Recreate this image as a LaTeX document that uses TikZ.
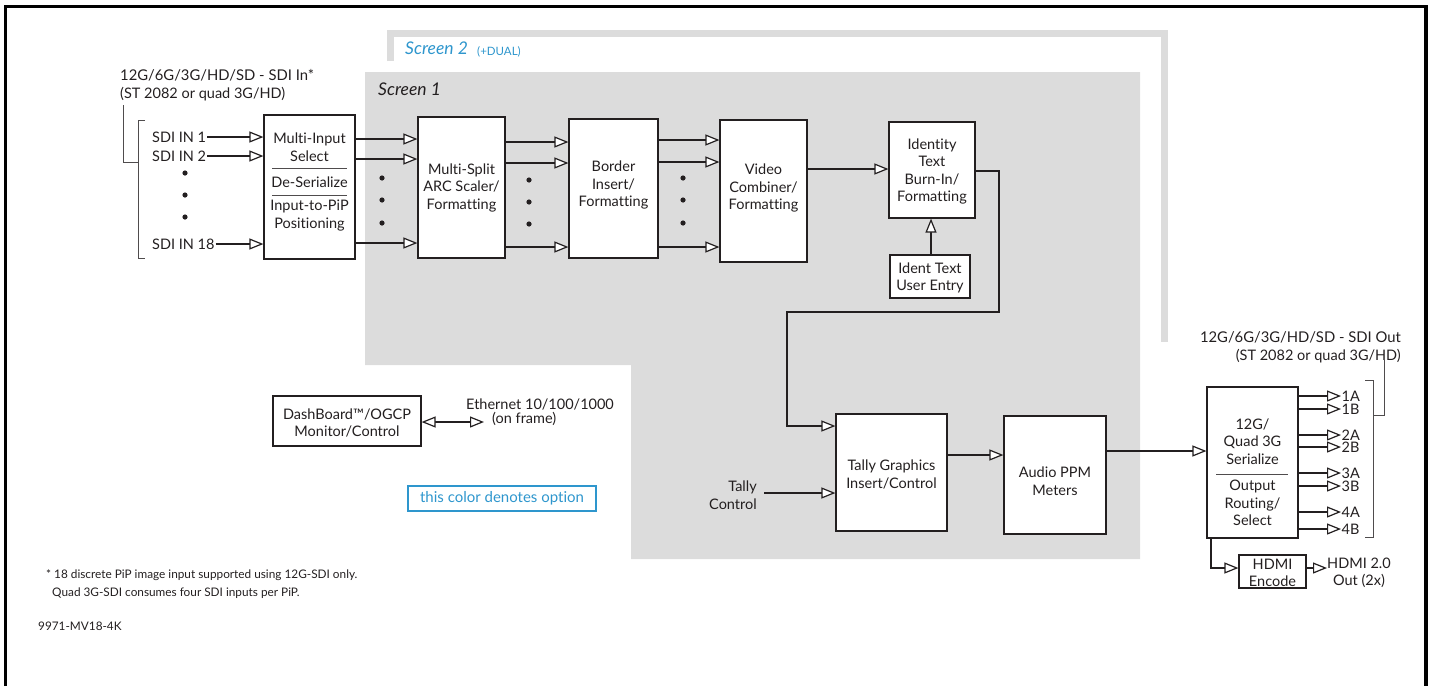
\documentclass[tikz,border=0pt]{standalone}
\usepackage{fontspec}
\setmainfont{Lato}[Ligatures=NoCommon]
\usetikzlibrary{arrows.meta}
\definecolor{optblue}{RGB}{46,150,205}
\definecolor{scrgray}{RGB}{220,220,220}
\definecolor{ink}{RGB}{35,31,32}
\begin{document}
\begin{tikzpicture}[x=1pt,y=-1pt,
  box/.style={draw=ink, line width=1.2pt, fill=white, inner sep=0pt, align=center, font=\fontsize{14.5}{17.5}\selectfont, text=ink},
  lbl/.style={inner sep=1pt, align=center, font=\fontsize{14.5}{17.5}\selectfont, text=ink},
  small/.style={inner sep=0pt, align=left, font=\fontsize{11.8}{18}\selectfont, text=ink},
  arr/.style={draw=ink, line width=1.2pt, -{Triangle[length=14pt,width=11pt,fill=white]}},
  darr/.style={draw=ink, line width=1.2pt, {Triangle[length=14pt,width=11pt,fill=white]}-{Triangle[length=14pt,width=11pt,fill=white]}},
  thin/.style={draw=ink!80, line width=0.9pt},
  dot/.style={fill=ink}
]
\useasboundingbox (0,0) rectangle (1430,686);
% frame
\draw[line width=3.5pt, line join=miter] (5.5,686) -- (5.5,6.5) -- (1426,6.5) -- (1426,686);
% screen areas
\fill[scrgray] (365,72) -- (1140,72) -- (1140,559) -- (631,559) -- (631,365) -- (365,365) -- cycle;
\draw[scrgray, line width=7pt, line join=miter] (390.5,61) -- (390.5,33.5) -- (1164.5,33.5) -- (1164.5,342);
\node[inner sep=0pt, anchor=base west, text=optblue, font=\fontsize{17.5}{20}\selectfont\itshape] (scr2) at (405,54.5) {Screen 2};
\node[inner sep=0pt, anchor=base west, text=optblue, font=\fontsize{11.5}{13}\selectfont] (dual) at (477,55.5) {(+DUAL)};
\node[inner sep=0pt, anchor=base west, text=ink, font=\fontsize{17.5}{20}\selectfont\itshape] (scr1) at (378,95) {Screen 1};

% input title and labels
\node[lbl, align=left, anchor=west, inner sep=0pt] (intitle) at (120,85) {\fontsize{14.8}{16}\selectfont 12G/6G/3G/HD/SD - SDI In*\\(ST 2082 or quad 3G/HD)};
\node[lbl, anchor=west] (in1) at (151,137) {SDI IN 1};
\node[lbl, anchor=west] (in2) at (151,156) {SDI IN 2};
\node[lbl, anchor=west] (in18) at (151,244) {SDI IN 18};
\fill[dot] (185,173) circle (2.6pt) (185,195) circle (2.6pt) (185,217) circle (2.6pt);
\draw[thin] (145,120) -- (138,120) -- (138,258) -- (145,258);
\draw[thin] (123,105) -- (123,162) -- (138,162);

% Multi-input box
\node[box, minimum width=91pt, minimum height=144pt] (mis) at (309.5,187) {};
\node[lbl] (mist1) at (309.5,147) {\fontsize{14.5}{16.5}\selectfont Multi-Input\\Select};
\node[lbl] (mist2) at (309.5,182) {De-Serialize};
\node[lbl] (mist3) at (309.5,215.5) {\fontsize{14.5}{16.5}\selectfont Input-to-PiP\\Positioning};
\draw[thin] (272,168) -- (347,168);
\draw[thin] (272,195) -- (347,195);
\draw[arr] (in1.east) -- (in1.east -| mis.west);
\draw[arr] (in2.east) -- (in2.east -| mis.west);
\draw[arr] (in18.east) -- (in18.east -| mis.west);

% Multi-split
\node[box, minimum width=87pt, minimum height=141pt] (msp) at (461.5,187.5) {Multi-Split\\ARC Scaler/\\Formatting};
\draw[arr] (mis.east |- 0,139) -- (msp.west |- 0,139);
\draw[arr] (mis.east |- 0,159) -- (msp.west |- 0,159);
\draw[arr] (mis.east |- 0,243) -- (msp.west |- 0,243);
\fill[dot] (382,178) circle (2.6pt) (382,200) circle (2.6pt) (382,223) circle (2.6pt);

% Border insert
\node[box, minimum width=89pt, minimum height=139pt] (bdr) at (613.5,188.5) {};
\node[lbl] (bdrt) at (613.5,185) {Border\\Insert/\\Formatting};
\draw[arr] (msp.east |- 0,142) -- (bdr.west |- 0,142);
\draw[arr] (msp.east |- 0,163) -- (bdr.west |- 0,163);
\draw[arr] (msp.east |- 0,247) -- (bdr.west |- 0,247);
\fill[dot] (529,180) circle (2.6pt) (529,202) circle (2.6pt) (529,224) circle (2.6pt);

% Video combiner
\node[box, minimum width=87pt, minimum height=142pt] (vid) at (763.5,191) {};
\node[lbl] (vidt) at (763.5,188) {Video\\Combiner/\\Formatting};
\draw[arr] (bdr.east |- 0,140) -- (vid.west |- 0,140);
\draw[arr] (bdr.east |- 0,162) -- (vid.west |- 0,162);
\draw[arr] (bdr.east |- 0,247) -- (vid.west |- 0,247);
\fill[dot] (683,178) circle (2.6pt) (683,200) circle (2.6pt) (683,223) circle (2.6pt);

% Identity
\node[box, minimum width=86pt, minimum height=96pt] (idt) at (932,170) {};
\node[lbl] (idtt) at (932,171.5) {\fontsize{14.5}{18.2}\selectfont Identity\\Text\\Burn-In/\\Formatting};
\node[box, minimum width=80pt, minimum height=43pt] (ide) at (930,276.5) {};
\node[lbl] (idet) at (930,278) {Ident Text\\User Entry};
\draw[arr] (vid.east |- 0,169) -- (idt.west |- 0,169);
\draw[arr] (ide.north -| 931,0) -- (idt.south -| 931,0);

% Tally graphics
\node[box, minimum width=111pt, minimum height=117pt] (tly) at (891.5,472.5) {};
\node[lbl] (tlyt) at (891.5,474.5) {Tally Graphics\\Insert/Control};
\coordinate (c1) at (999,171);
\coordinate (c2) at (999,312);
\coordinate (c3) at (787,312);
\coordinate (c4) at (787,426);
\draw[arr, line join=miter] (idt.east |- c1) -- (c1) -- (c2) -- (c3) -- (c4) -- (tly.west |- c4);
\node[lbl, align=right, anchor=east] (tcl) at (758,495) {Tally\\Control};
\draw[arr] (tcl.east |- 0,493) ++(6,0) -- (tly.west |- 0,493);

% Audio PPM
\node[box, minimum width=102pt, minimum height=118pt] (aud) at (1055,475) {};
\node[lbl] (audt) at (1055,481) {Audio PPM\\Meters};
\draw[arr] (tly.east |- 0,455) -- (aud.west |- 0,455);

% Output serializer
\node[box, minimum width=91pt, minimum height=151pt] (ser) at (1252.5,462.5) {};
\node[lbl] (sert1) at (1252.5,441.5) {12G/\\Quad 3G\\Serialize};
\node[lbl] (sert2) at (1252.5,503) {Output\\Routing/\\Select};
\draw[thin] (1216,474) -- (1288,474);
\draw[arr] (aud.east |- 0,451) -- (ser.west |- 0,451);
\node[lbl, inner sep=0.5pt, anchor=west] (o1a) at (1341,396) {1A};
\node[lbl, inner sep=0.5pt, anchor=west] (o1b) at (1341,409) {1B};
\node[lbl, inner sep=0.5pt, anchor=west] (o2a) at (1341,435) {2A};
\node[lbl, inner sep=0.5pt, anchor=west] (o2b) at (1341,447) {2B};
\node[lbl, inner sep=0.5pt, anchor=west] (o3a) at (1341,473) {3A};
\node[lbl, inner sep=0.5pt, anchor=west] (o3b) at (1341,486) {3B};
\node[lbl, inner sep=0.5pt, anchor=west] (o4a) at (1341,512) {4A};
\node[lbl, inner sep=0.5pt, anchor=west] (o4b) at (1341,529) {4B};
\foreach \o in {o1a,o1b,o2a,o2b,o3a,o3b,o4a,o4b}
  \draw[arr] (ser.east |- \o.west) -- (\o.west);
\draw[thin] (1365,380) -- (1373,380) -- (1373,537) -- (1365,537);
\draw[thin] (1373,415) -- (1384,415) -- (1384,360);
\node[lbl, align=right, anchor=east, inner sep=0pt] (outtitle) at (1401,347.5) {\fontsize{14.8}{15}\selectfont 12G/6G/3G/HD/SD - SDI Out\\(ST 2082 or quad 3G/HD)};

% HDMI
\node[box, minimum width=67pt, minimum height=33pt] (hdm) at (1272.5,571.5) {};
\node[lbl] (hdmt) at (1272.5,573) {\fontsize{14.5}{16}\selectfont HDMI\\Encode};
\coordinate (h1) at (1211,568);
\draw[arr, line join=miter] (ser.south -| h1) -- (h1) -- (hdm.west |- h1);
\node[lbl, anchor=west, inner sep=0pt] (hdo) at (1327,573) {\fontsize{14.5}{16.5}\selectfont HDMI 2.0\\Out (2x)};
\draw[arr] (hdm.east |- h1) -- (hdo.west |- h1);

% DashBoard
\node[box, minimum width=148pt, minimum height=50pt] (dsh) at (347,421) {};
\node[lbl] (dsht) at (347,423) {DashBoard™/OGCP\\Monitor/Control};
\node[lbl, anchor=west, inner sep=0pt] (eth1) at (466,404) {Ethernet 10/100/1000};
\node[lbl, anchor=west, inner sep=0pt] (eth2) at (492,419) {(on frame)};
\coordinate (ethend) at (484,422);
\draw[darr] (dsh.east |- ethend) -- (ethend);

% option legend
\node[draw=optblue, line width=2pt, minimum width=188pt, minimum height=25pt, inner sep=0pt, text=optblue, font=\fontsize{15}{16}\selectfont] (opt) at (502,498.5) {this color denotes option};

% footnotes
\node[small, anchor=west] (fn1) at (46,575) {* 18 discrete PiP image input supported using 12G-SDI only.};
\node[small, anchor=west] (fn2) at (52,593) {Quad 3G-SDI consumes four SDI inputs per PiP.};
\node[small, anchor=west] (fn3) at (38,626) {9971-MV18-4K};
\end{tikzpicture}
\end{document}
